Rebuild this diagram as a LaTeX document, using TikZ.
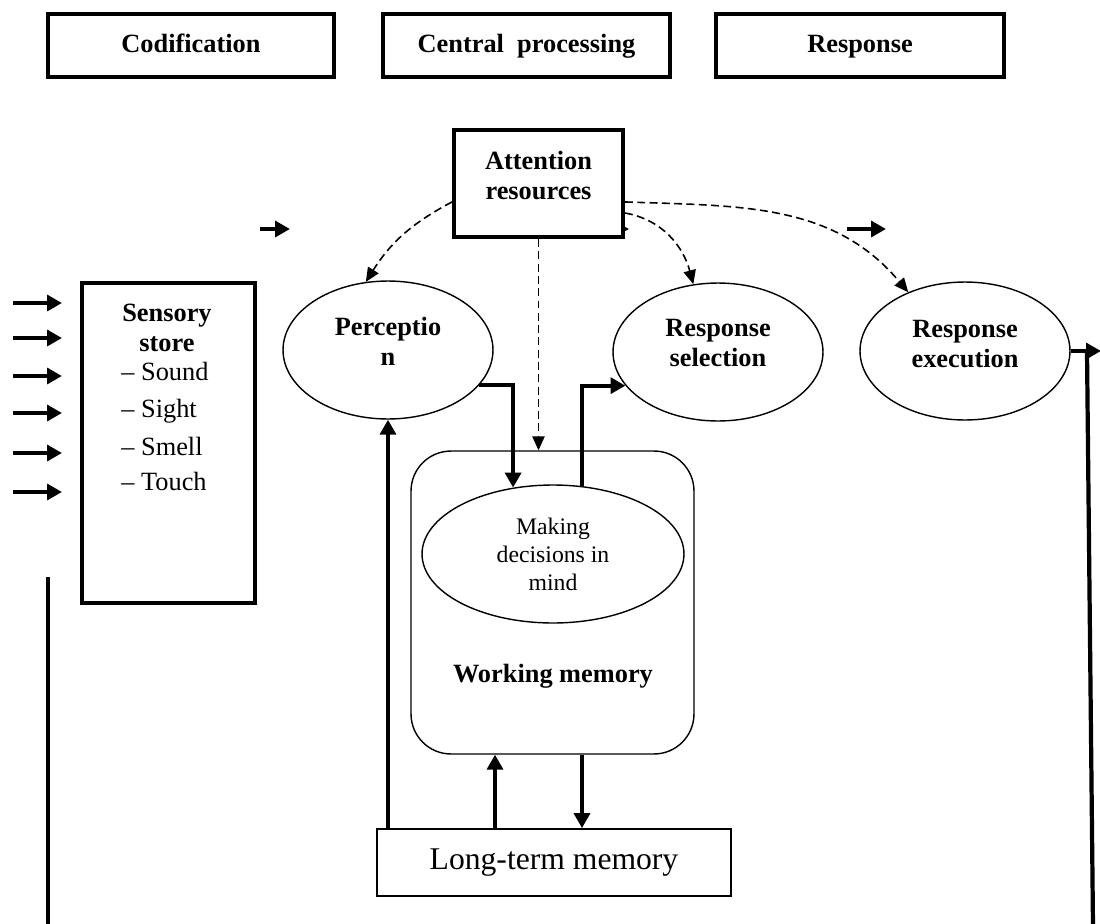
\documentclass[tikz,border=0pt]{standalone}
\usepackage{fontspec}
\setmainfont{Liberation Serif}
\usetikzlibrary{arrows.meta, calc, shapes.geometric}

\tikzset{
  headbox/.style={draw, line width=2.3pt, minimum height=1.26cm, inner sep=0pt, text height=10.5pt, text depth=3pt, font=\fontsize{15}{17}\selectfont\bfseries},
  blob/.style={draw, ellipse, line width=0.8pt, minimum width=4.2cm, minimum height=2.76cm, inner sep=0pt},
  boldtext/.style={align=center, font=\fontsize{15}{17}\selectfont\bfseries},
  thickarrow/.style={line width=2.4pt, -{Triangle[length=8.5pt,width=9pt]}},
  thickline/.style={line width=2.4pt},
  attnarrow/.style={line width=0.9pt, dash pattern=on 4.5pt off 2.5pt, -{Triangle[length=8pt,width=7pt]}},
}

\begin{document}
\begin{tikzpicture}[x=0.02cm, y=-0.02cm]
            \useasboundingbox (0,0) rectangle (1100,924);
            % stages
            \node[headbox, minimum width=5.72cm] (codif) at (191,45.5) {Codification};
            \node[headbox, minimum width=5.74cm] (central) at (526.5,45.5) {Central~~processing};
            \node[headbox, minimum width=5.76cm] (resp) at (860,45.5) {Response};
            % attention
            \draw[line width=0.8pt, -{Triangle[length=5pt,width=5pt]}] (538,229) -- (629,229);
            \node[draw, fill=white, line width=2.3pt, minimum width=3.38cm, minimum height=2.14cm,
                  label={[boldtext, yshift=4.5pt]center:Attention\\resources}] (attn) at (538.5,183.5) {};
            \coordinate (lin) at (260,229);
            \coordinate (rin) at (847,229);
            \draw[thickarrow] (lin) -- ++(30,0);
            \draw[thickarrow] (rin) -- ++(39,0);
            % sensory store
            \node[draw, line width=2.3pt, minimum width=3.46cm, minimum height=6.4cm] (sensory) at (168.5,443) {};
            \node[boldtext] (sensname) at (167,328) {Sensory\\store};
            \foreach \t/\y in {Sound/376, Sight/413, Smell/451, Touch/486}
                \node[anchor=mid west, inner sep=0pt, font=\fontsize{15}{17}\selectfont] (sense-\t) at (121,\y) {--~\t};
            \foreach \y [count=\i] in {303,338,376,413,453,492} {
                \coordinate (src\i) at (13,\y);
                \draw[thickarrow] (src\i) -- ++(49,0);
            }
            % stages of processing
            \node[blob, label={[boldtext, yshift=5pt]center:Perceptio\\n}] (perc) at (388,350) {};
            \node[blob, label={[boldtext, yshift=5pt]center:Response\\selection}] (sel) at (718,352) {};
            \node[blob, label={[boldtext, yshift=4pt]center:Response\\execution}] (exec) at (965,351) {};
            % working memory
            \node[draw, rounded corners=0.8cm, line width=0.8pt, minimum width=5.66cm, minimum height=6.06cm] (wm) at (552.5,602.5) {};
            \node[draw, ellipse, line width=0.8pt, minimum width=5.24cm, minimum height=2.76cm, inner sep=0pt, align=center, font=\fontsize{13.5}{16}\selectfont] (decide) at (553,554) {Making\\decisions in\\mind};
            \node[boldtext] (wmname) at (553,676) {Working memory};
            \node[draw, line width=1pt, minimum width=7.08cm, minimum height=1.34cm, font=\fontsize{18}{20}\selectfont] (ltm) at (554,862.5) {Long-term memory};
            % attention links
            \draw[attnarrow] ([yshift=-10.5pt]attn.west) to[bend right=15] (perc.108);
            \draw[attnarrow] (attn.south) -- (attn.south |- wm.north);
            \draw[attnarrow] ([yshift=-16.8pt]attn.east) to[out=-10, in=105] (sel.110);
            \draw[attnarrow] ([yshift=-10.5pt]attn.east) to[out=-2, in=130] (exec.134);
            % flow
            \draw[thickarrow] (perc.-21) -| (decide.121);
            \draw[thickarrow] (decide.67) |- (sel.200);
            \draw[thickarrow] (ltm.north -| perc.south) -- (perc.south);
            \draw[thickarrow] (ltm.north -| 495,0) -- (wm.south -| 495,0);
            \draw[thickarrow] (wm.south -| 582,0) -- (ltm.north -| 582,0);
            % feedback
            \coordinate (outr) at (1101,351);
            \coordinate (fbleft) at (48,577);
            \draw[thickarrow] (exec.east) -- (outr);
            \draw[thickline] (exec.east -| 1087,0) -- (1093,926);
            \draw[thickline] (fbleft) -- (48,926);
        \end{tikzpicture}
\end{document}
